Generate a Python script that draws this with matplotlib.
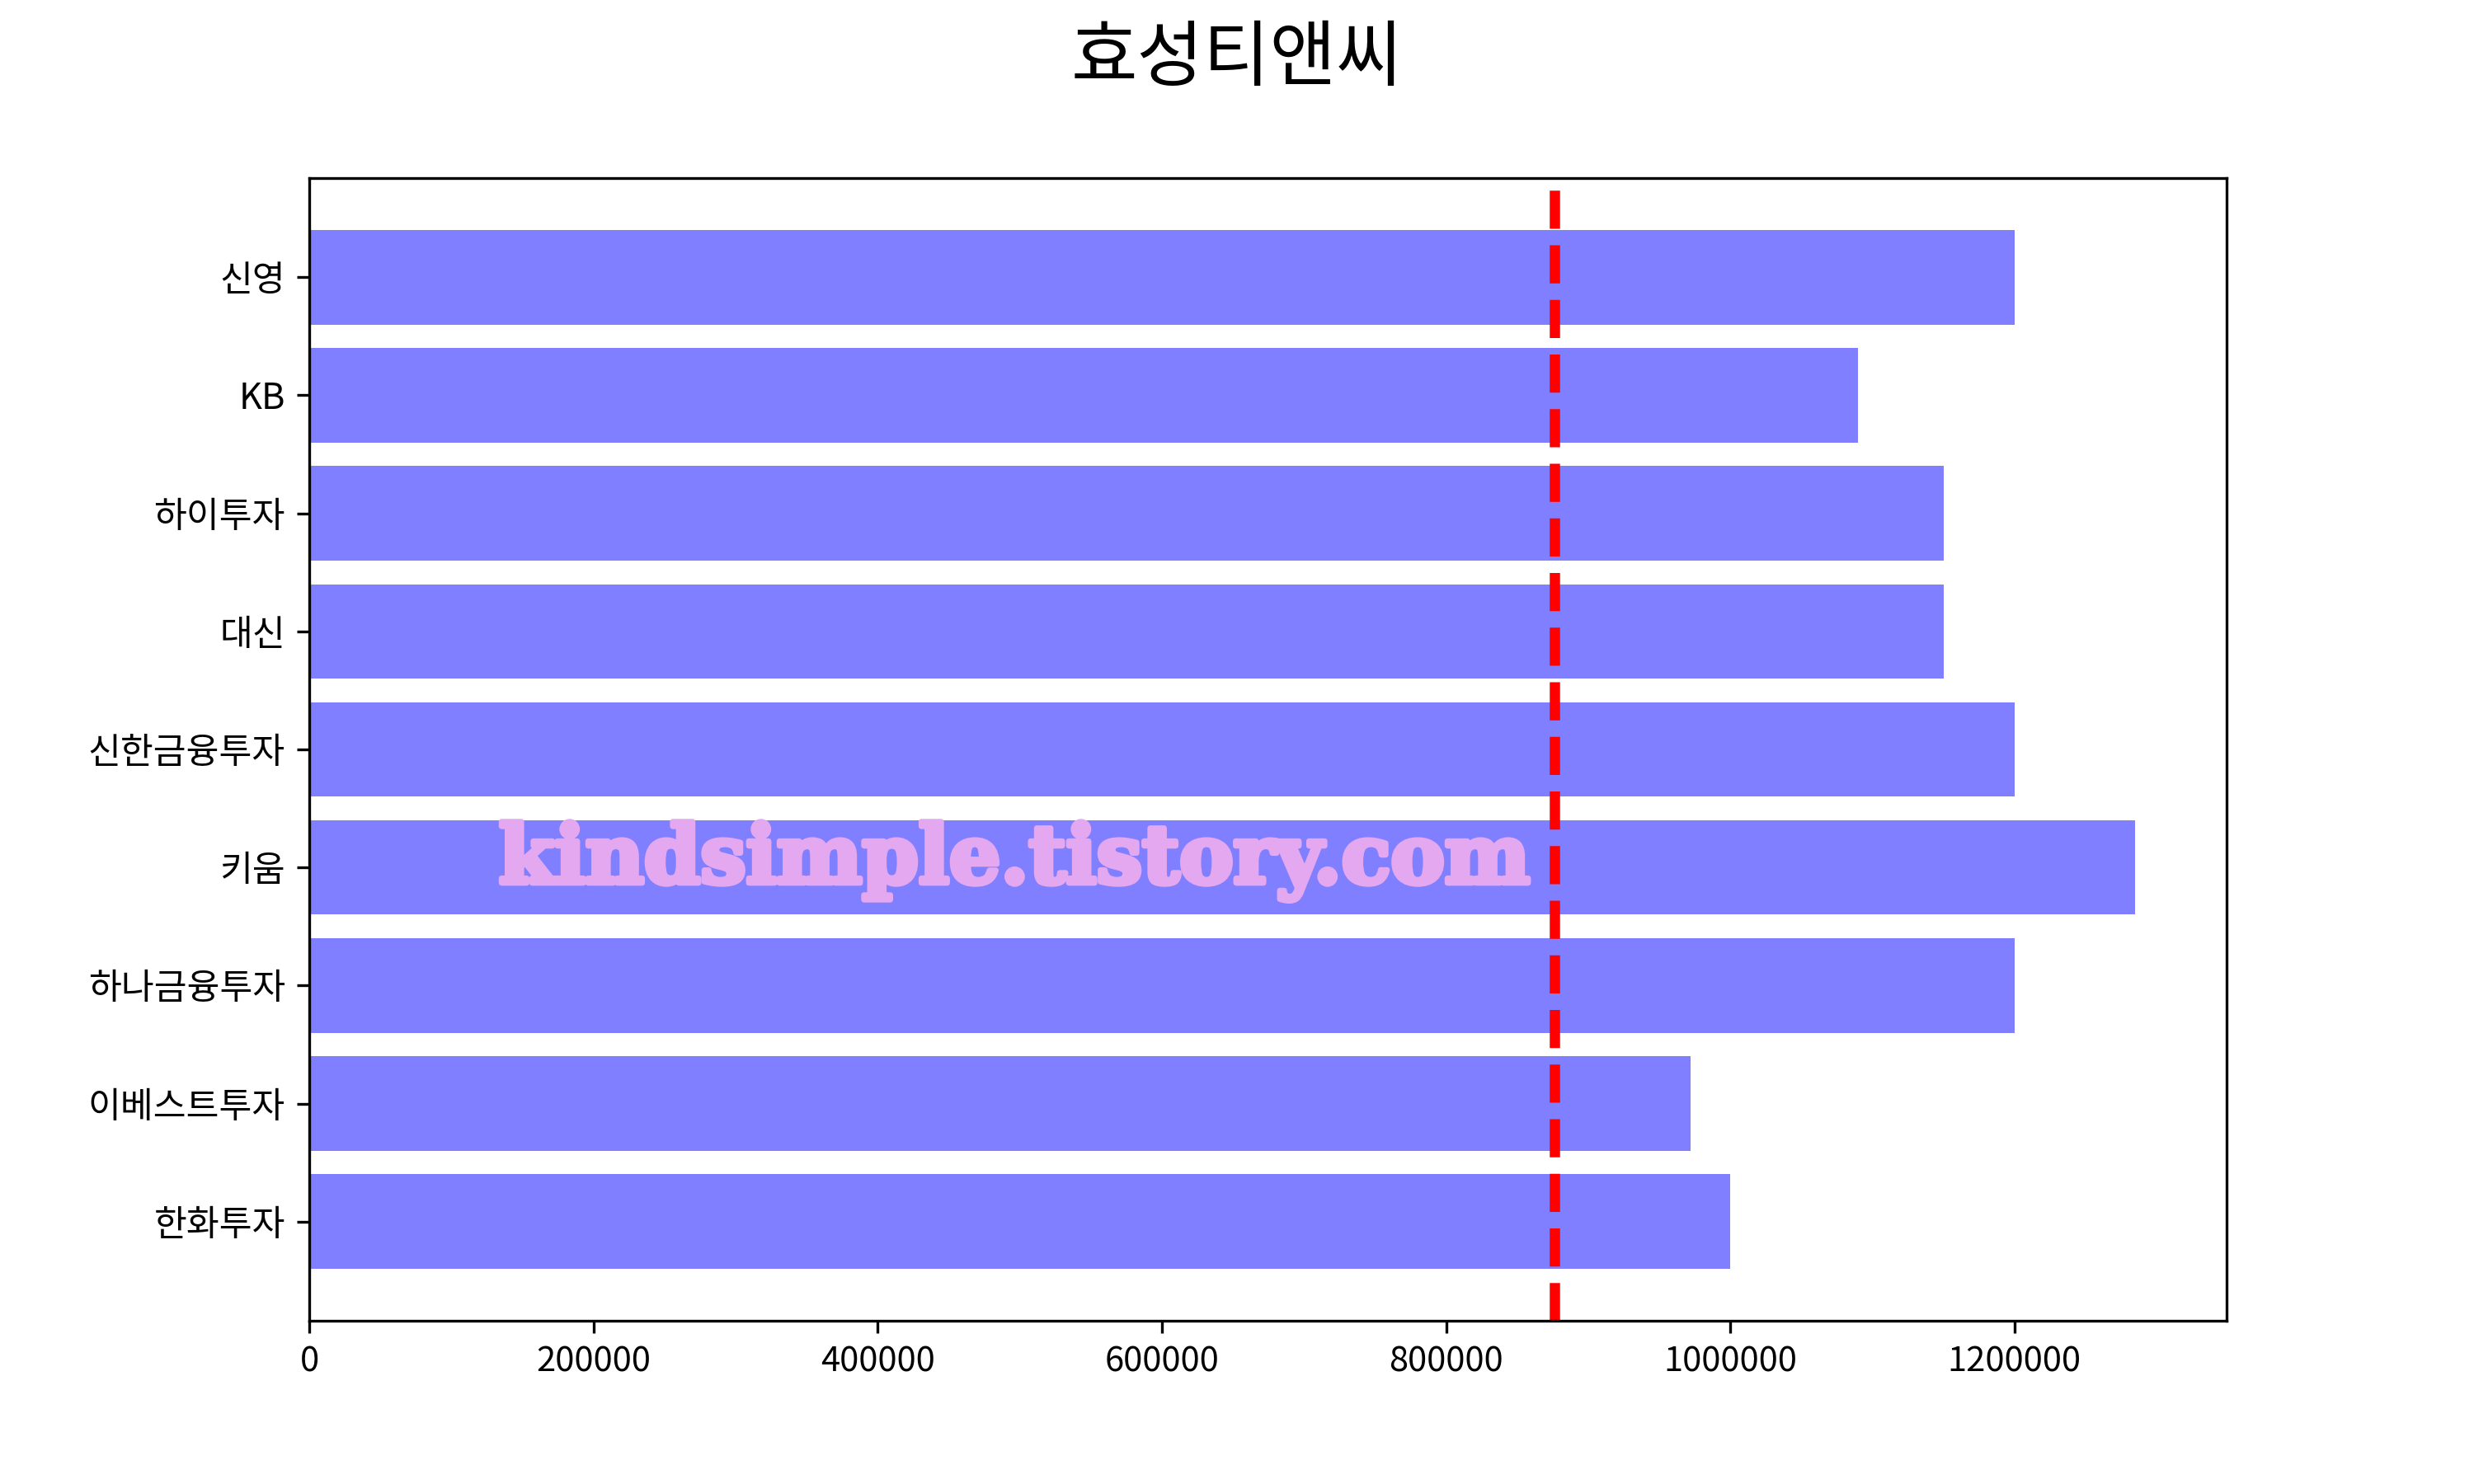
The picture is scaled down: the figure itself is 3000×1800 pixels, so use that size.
import matplotlib
matplotlib.use("Agg")
import matplotlib.pyplot as plt
import matplotlib.patheffects as pe

plt.rcParams['font.family'] = ['Noto Sans CJK KR', 'DejaVu Sans']

title = "효성티앤씨"
brokers = ["신영", "KB", "하이투자", "대신", "신한금융투자", "키움", "하나금융투자", "이베스트투자", "한화투자"]
targets = [1200000, 1090000, 1150000, 1150000, 1200000, 1285000, 1200000, 972000, 1000000]
current_price = 876000
watermark = "kindsimple.tistory.com"

fig = plt.figure(figsize=(10, 6), dpi=300)
ax = fig.add_subplot(111)

cats = brokers[::-1]
vals = targets[::-1]
ax.barh(cats, vals, color='blue', alpha=0.5)
ax.axvline(current_price, color='red', linestyle='--', linewidth=3)
ax.ticklabel_format(axis='x', style='plain')
ax.tick_params(axis='y', labelsize=10.4)

fig.suptitle(title, fontsize=21, y=0.985)

fig.text(0.410, 0.405, watermark, fontsize=23.5, color='#E3A8F0',
         family='DejaVu Serif', fontweight='bold', ha='center', va='baseline',
         path_effects=[pe.withStroke(linewidth=1.6, foreground='#E3A8F0')])

fig.savefig("out.png", dpi=300)
